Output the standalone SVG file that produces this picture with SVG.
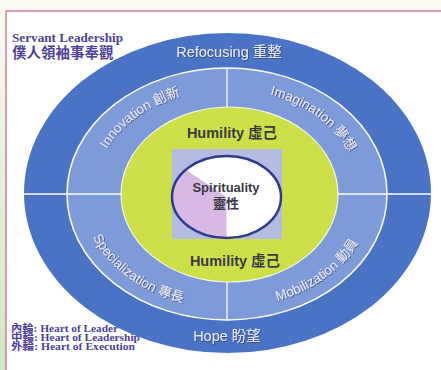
<svg xmlns="http://www.w3.org/2000/svg" width="441" height="370" viewBox="0 0 441 370">
<defs>
  <linearGradient id="leftStrip" x1="0" y1="0" x2="0" y2="1">
    <stop offset="0" stop-color="#fbfaf2"/>
    <stop offset="0.4" stop-color="#e6f0dc"/>
    <stop offset="1" stop-color="#d2e8c4"/>
  </linearGradient>
  <filter id="shadow" x="-10%" y="-30%" width="120%" height="160%">
    <feDropShadow dx="0.8" dy="0.8" stdDeviation="0.4" flood-color="#26305a" flood-opacity="0.7"/>
  </filter>
  <path id="pInnov" d="M 94 194 A 133 105 0 0 1 227 89"/>
  <path id="pImag" d="M 227 89 A 133 105 0 0 1 360 194"/>
  <path id="pSpec" d="M 82 194 A 145 114 0 0 0 227 308"/>
  <path id="pMob" d="M 227 308 A 145 114 0 0 0 372 194"/>
</defs>
<style>
  .ring { font-family: "Liberation Sans", Arial, "Noto Sans CJK TC", sans-serif; fill: #e9ebf2; filter: url(#shadow); }
  .outerlbl { font-size: 14.5px; }
  .midlbl { font-size: 13.5px; }
  .dark { font-family: "Liberation Sans", Arial, "Noto Sans CJK TC", sans-serif; font-weight: bold; fill: #3a3a46; }
  .serif { font-family: "Liberation Serif", "Times New Roman", "Noto Sans CJK TC", serif; fill: #4d3f9a; }
  .legend { font-size: 10.5px; font-weight: bold; }
  .divider { stroke: #ffffff; stroke-width: 1.3; fill: none; }
</style>

<!-- background and frame -->
<rect x="0" y="0" width="441" height="370" fill="#fbfaf2"/>
<rect x="0" y="11" width="6" height="359" fill="url(#leftStrip)"/>
<rect x="6" y="11" width="436" height="360" fill="#ffffff" stroke="#c8628a" stroke-width="1.2"/>

<!-- legend (partly under the outer ring) -->
<g id="legend" class="serif legend">
  <text x="11" y="331.5" textLength="107" lengthAdjust="spacingAndGlyphs">內輪: Heart of Leader</text>
  <text x="11" y="340.5" textLength="129" lengthAdjust="spacingAndGlyphs">中輪: Heart of Leadership</text>
  <text x="11" y="349.5" textLength="124" lengthAdjust="spacingAndGlyphs">外輪: Heart of Execution</text>
</g>

<g id="title" class="serif">
  <text x="12" y="42" font-size="13.5" font-weight="bold" textLength="111" lengthAdjust="spacingAndGlyphs">Servant Leadership</text>
  <text x="12" y="57.5" font-size="14.5" font-weight="bold">僕人領袖事奉觀</text>
</g>

<!-- outer ring: Heart of Execution -->
<g id="outer-ring">
  <ellipse cx="227.5" cy="193" rx="203.5" ry="160" fill="#4a72c5"/>
</g>

<!-- middle ring: Heart of Leadership -->
<g id="middle-ring">
  <ellipse cx="227" cy="194" rx="160" ry="126" fill="#7d9bd9" stroke="#ffffff" stroke-width="1.5"/>
</g>

<!-- inner: Heart of Leader -->
<g id="inner-ring">
  <ellipse cx="229.5" cy="194.5" rx="108.5" ry="87.5" fill="#cde04a" stroke="#f4f8e0" stroke-width="1.2"/>
</g>

<!-- dividers -->
<g id="connectors">
  <line class="divider" x1="24" y1="194" x2="121" y2="194"/>
  <line class="divider" x1="338" y1="194" x2="431" y2="194"/>
  <line class="divider" x1="227" y1="68" x2="227" y2="107"/>
  <line class="divider" x1="227" y1="282" x2="227" y2="320"/>
</g>

<!-- core -->
<g id="core">
  <rect x="172" y="149" width="110" height="90" fill="#b4bce2"/>
  <ellipse cx="226.5" cy="197" rx="54.5" ry="41" fill="#ffffff"/>
  <path d="M 226.5 197 L 185.7 169.8 A 54.5 41 0 0 0 226.5 238 Z" fill="#d8b8e4"/>
  <ellipse cx="226.5" cy="197" rx="54.5" ry="41" fill="none" stroke="#2e3a8a" stroke-width="2.5"/>
  <text class="dark" x="226" y="192" font-size="13" text-anchor="middle">Spirituality</text>
  <text class="dark" x="226" y="208" font-size="13" text-anchor="middle">靈性</text>
</g>

<!-- outer ring labels -->
<g id="node-refocusing">
  <text class="ring outerlbl" x="229" y="57" text-anchor="middle">Refocusing 重整</text>
</g>
<g id="node-hope">
  <text class="ring outerlbl" x="227" y="341" text-anchor="middle">Hope 盼望</text>
</g>

<!-- middle ring labels -->
<g id="node-innovation">
  <text class="ring midlbl" text-anchor="middle"><textPath href="#pInnov" startOffset="50%">Innovation 創新</textPath></text>
</g>
<g id="node-imagination">
  <text class="ring midlbl" text-anchor="middle"><textPath href="#pImag" startOffset="50%">Imagination 夢想</textPath></text>
</g>
<g id="node-specialization">
  <text class="ring midlbl" text-anchor="middle"><textPath href="#pSpec" startOffset="50%">Specialization 專長</textPath></text>
</g>
<g id="node-mobilization">
  <text class="ring midlbl" text-anchor="middle"><textPath href="#pMob" startOffset="50%">Mobilization 動員</textPath></text>
</g>

<!-- inner labels -->
<g id="node-humility-top">
  <text class="dark" x="232" y="138" font-size="14.5" text-anchor="middle">Humility 虛己</text>
</g>
<g id="node-humility-bottom">
  <text class="dark" x="235" y="266" font-size="14.5" text-anchor="middle">Humility 虛己</text>
</g>
</svg>
